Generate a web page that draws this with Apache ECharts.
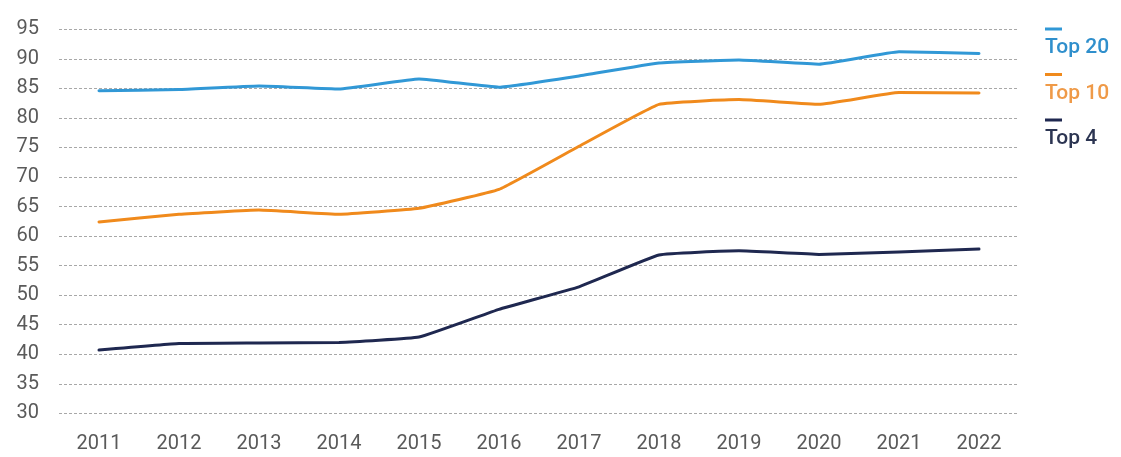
<!DOCTYPE html>
<html>
<head>
<meta charset="utf-8">
<script src="https://cdn.jsdelivr.net/npm/echarts@6/dist/echarts.min.js"></script>
<style>
  html, body { margin: 0; padding: 0; background: #fff; }
  #chart { width: 1121px; height: 457px; }
</style>
</head>
<body>
<div id="chart"></div>
<script>
// Years on the x axis
const years = ['2011', '2012', '2013', '2014', '2015', '2016', '2017', '2018', '2019', '2020', '2021', '2022'];

// Market share of the largest firms (%)
const top20 = [84.6, 84.8, 85.4, 84.9, 86.6, 85.2, 87.1, 89.3, 89.8, 89.1, 91.2, 90.9];
const top10 = [62.4, 63.7, 64.4, 63.7, 64.7, 67.9, 75.2, 82.3, 83.1, 82.3, 84.3, 84.2];
const top4  = [40.7, 41.8, 41.9, 42.0, 42.9, 47.6, 51.4, 56.8, 57.5, 56.9, 57.3, 57.8];

// Series names and colours
const seriesNames = ['Top 20', 'Top 10', 'Top 4'];
const seriesColors = ['#3198d6', '#f08a1c', '#1f2850'];
const legendTextColors = ['#2f8fcc', '#ef9a48', '#2c3552'];

const chart = echarts.init(document.getElementById('chart'));

// Legend entries: a short coloured bar sitting above each label
const rich = {};
seriesNames.forEach((n, i) => {
  rich['bar' + i] = { width: 17, height: 3, backgroundColor: seriesColors[i], lineHeight: 12 };
  rich['txt' + i] = { color: legendTextColors[i], fontSize: 21, fontWeight: 500, lineHeight: 26, fontFamily: 'Roboto' };
});

const seriesData = [top20, top10, top4];

chart.setOption({
  animation: false,
  backgroundColor: '#ffffff',
  grid: { left: 59, right: 102, top: 29.3, bottom: 43.7 },
  legend: {
    orient: 'vertical',
    left: 1040,
    top: 23,
    icon: 'none',
    itemWidth: 0,
    itemHeight: 0,
    itemGap: 10,
    padding: 0,
    data: seriesNames,
    formatter: name => {
      const i = seriesNames.indexOf(name);
      return '{bar' + i + '|}\n{txt' + i + '|' + name + '}';
    },
    textStyle: { rich: rich, padding: 0 }
  },
  xAxis: {
    type: 'category',
    data: years,
    boundaryGap: true,
    axisLine: { show: false },
    axisTick: { show: false },
    axisLabel: { color: '#5a5a5a', fontSize: 20, fontFamily: 'Roboto', margin: 21 }
  },
  yAxis: {
    type: 'value',
    min: 30,
    max: 95,
    interval: 5,
    axisLine: { show: false },
    axisTick: { show: false },
    axisLabel: { color: '#5a5a5a', fontSize: 20, fontFamily: 'Roboto', margin: 20, padding: [0, 0, 14, 0] },
    splitLine: { lineStyle: { color: '#a8a8a8', width: 1, type: [3, 2] } }
  },
  series: seriesNames.map((n, i) => ({
    name: n,
    type: 'line',
    data: seriesData[i],
    symbol: 'none',
    smooth: 0.1,
    lineStyle: { color: seriesColors[i], width: 3, join: 'round', cap: 'round' },
    itemStyle: { color: seriesColors[i] }
  }))
});
</script>
</body>
</html>
